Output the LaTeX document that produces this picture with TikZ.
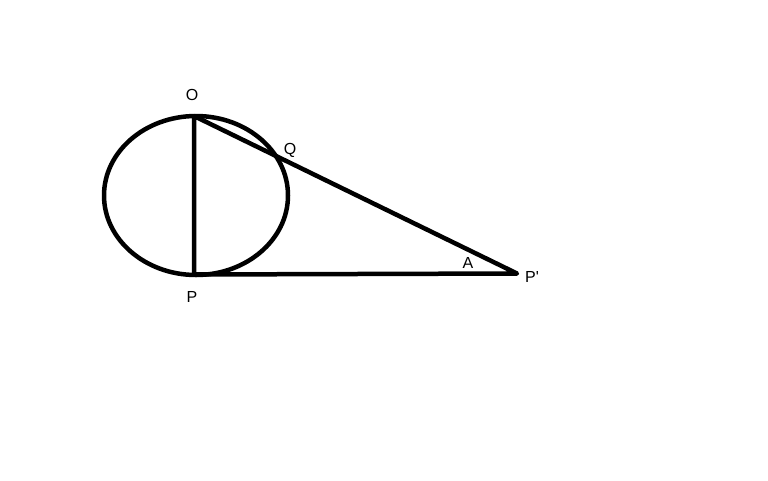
\documentclass[tikz,border=0pt]{standalone}
\usepackage{fontspec}
\setmainfont{Liberation Sans}
\usepackage{tikz}
\usetikzlibrary{calc}
\definecolor{ink}{HTML}{000000}
\tikzset{
  base/.style={draw=ink, line width=4.5pt, line cap=round, line join=round},
  lab/.style={text=ink, font=\fontsize{16}{19}\selectfont, inner sep=0pt},
}

\begin{document}
\begin{tikzpicture}[x=1pt,y=-1pt]
  \useasboundingbox (0,0) rectangle (768,480);
  \coordinate (C) at (196,195.5);
  \coordinate (O) at (194,116);
  \coordinate (P) at (194,274.5);
  \coordinate (P2) at (517,273.5);
  \draw[base] (C) ellipse [x radius=92, y radius=79.5];
  \draw[base] (O)--(P)--(P2)--cycle;
  \node[lab] (lO) at (192,95) {O};
  \node[lab] (lQ) at (290,150) {Q};
  \node[lab] (lP) at (192,297) {P};
  \node[lab] (lP2) at (532,277) {P\textquotesingle};
  \node[lab] (lA) at (468,263) {A};
\end{tikzpicture}
\end{document}
